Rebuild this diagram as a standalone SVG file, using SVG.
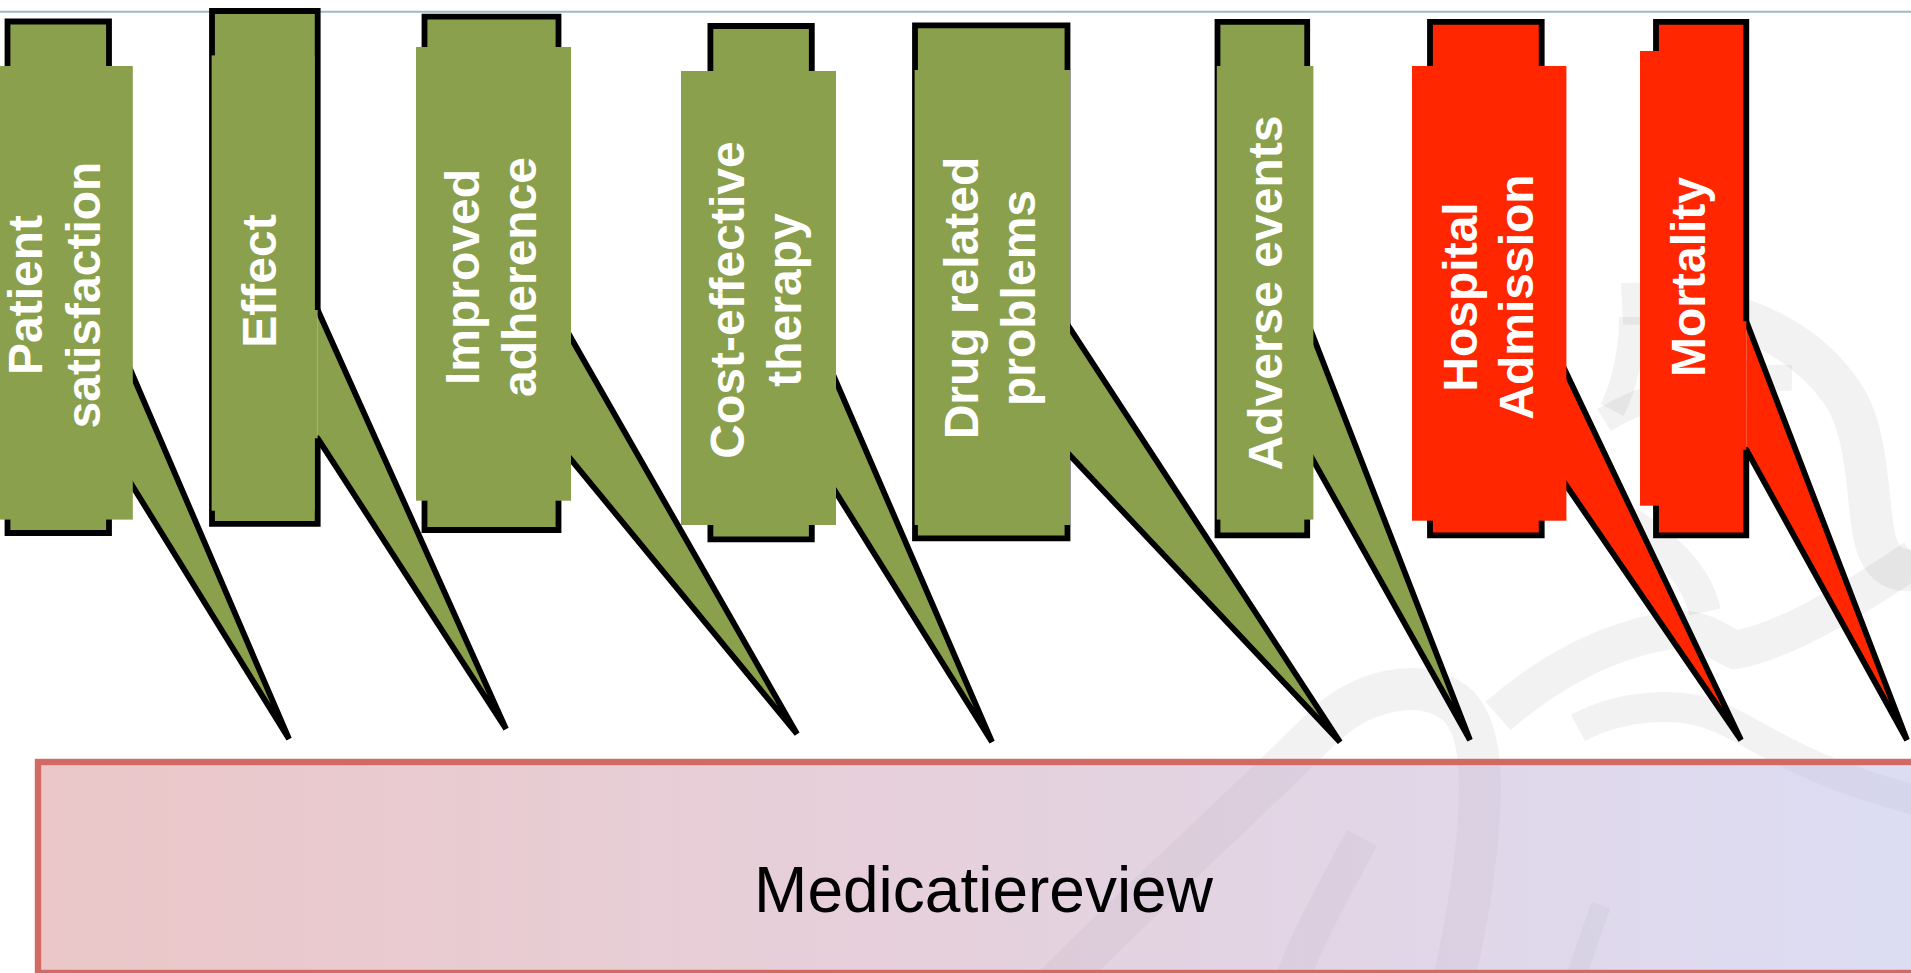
<svg xmlns="http://www.w3.org/2000/svg" width="1911" height="973" viewBox="0 0 1911 973">
  <defs>
    <!-- half-transparent tint so the emblem behind it shows through softly -->
    <linearGradient id="reviewFill" gradientUnits="userSpaceOnUse" x1="38" y1="0" x2="1931" y2="0">
      <stop offset="0" stop-color="#D78F91"/>
      <stop offset="0.45" stop-color="#CDA1B7"/>
      <stop offset="1" stop-color="#B9BBE9"/>
    </linearGradient>
    <style>
      .outline { stroke: #000; stroke-width: 5.8; stroke-linejoin: miter; }
      .wedge { stroke: #000; stroke-width: 5.8; stroke-linejoin: miter; stroke-linecap: round; }
      .green { fill: #8AA04C; }
      .red { fill: #FF2600; }
      .label { font-family: "Liberation Sans", Arial, sans-serif; font-weight: bold; font-size: 48px; fill: #FFFFFF; text-anchor: middle; }
      .base-label { font-family: "Liberation Sans", Arial, sans-serif; font-size: 64px; fill: #000000; text-anchor: middle; }
      .wm { fill: none; stroke: #000000; stroke-opacity: 0.05; }
    </style>
  </defs>

  <!-- page background and header rule -->
  <rect x="0" y="0" width="1911" height="973" fill="#FFFFFF"/>
  <line x1="0" y1="11.8" x2="1911" y2="11.8" stroke="#9DBDB8" stroke-width="2"/>

  <!-- faint background emblem -->
  <g id="watermark">
    <path class="wm" stroke-width="42" d="M1050 990 C1140 900 1250 800 1320 730 C1360 690 1420 676 1455 703 C1486 728 1482 800 1475 860 C1468 920 1458 960 1452 990"/>
    <path class="wm" stroke-width="38" d="M1498 716 C1545 675 1605 640 1672 630 C1700 627 1715 640 1735 650 C1790 640 1860 595 1915 558"/>
    <path class="wm" stroke-width="32" d="M1705 612 C1698 580 1675 552 1628 522"/>
    <path class="wm" stroke-width="26" d="M1632 317 C1632 350 1625 385 1612 410"/>
    <path class="wm" stroke-width="26" d="M1604 420 C1640 398 1700 376 1792 378"/>
    <path class="wm" stroke-width="42" d="M1622 304 C1700 300 1790 320 1840 390 C1870 430 1866 500 1875 540 C1882 565 1895 572 1915 570"/>
    <path class="wm" stroke-width="30" d="M1578 728 C1620 705 1680 700 1720 718 C1760 735 1800 770 1915 800"/>
    <path class="wm" stroke-width="34" d="M1362 838 C1340 880 1310 930 1290 985"/>
    <path class="wm" stroke-width="20" d="M1601 905 L1573 985"/>
  </g>

  <!-- base box -->
  <g id="medicatiereview">
    <rect x="38" y="762" width="1893" height="211" fill="url(#reviewFill)" fill-opacity="0.5" stroke="#D06A63" stroke-width="6.4"/>
    <text class="base-label" x="983.5" y="912">Medicatiereview</text>
  </g>

  <!-- pointers from each outcome down towards the review box -->
  <g id="connectors">
    <path class="wedge green" d="M109 320 L289 739 L109 448"/>
    <path class="wedge green" d="M317.7 310 L506 729 L317.7 438.3"/>
    <path class="wedge green" d="M558.5 316 L797 734 L558.5 444.4"/>
    <path class="wedge green" d="M811.8 325.4 L992 742 L811.8 453.8"/>
    <path class="wedge green" d="M1067.5 324.5 L1340 742 L1067.5 452.8"/>
    <path class="wedge green" d="M1307.2 321.3 L1470 740 L1307.2 449.7"/>
    <path class="wedge red" d="M1541.7 321.3 L1741 740 L1541.7 449.7"/>
    <path class="wedge red" d="M1746.3 321.3 L1907 740 L1746.3 449.7"/>
  </g>

  <!-- outcome callouts: open outline (gap where the pointer joins), text panel, label -->
  <g id="patient-satisfaction">
    <path class="outline green" d="M109 448 V533 H7.5 V21.5 H109 V320"/>
    <rect class="green" x="0" y="66" width="132.8" height="453.6"/>
    <text class="label" transform="translate(66 295) rotate(-90)"><tspan x="0" y="-24">Patient</tspan><tspan x="0" y="34">satisfaction</tspan></text>
  </g>

  <g id="effect">
    <path class="outline green" d="M317.7 438.3 V523.8 H212 V11 H317.7 V310"/>
    <rect class="green" x="211.6" y="55.4" width="103" height="455.3"/>
    <text class="label" transform="translate(263 281) rotate(-90)"><tspan x="0" y="13">Effect</tspan></text>
  </g>

  <g id="improved-adherence">
    <path class="outline green" d="M558.5 444.4 V530 H424.5 V16.6 H558.5 V316"/>
    <rect class="green" x="416" y="47" width="155" height="453.7"/>
    <text class="label" transform="translate(493.5 277) rotate(-90)"><tspan x="0" y="-15">Improved</tspan><tspan x="0" y="42.5">adherence</tspan></text>
  </g>

  <g id="cost-effective-therapy">
    <path class="outline green" d="M811.8 453.8 V539.3 H710.4 V26 H811.8 V325.4"/>
    <rect class="green" x="681" y="71" width="155" height="454"/>
    <text class="label" transform="translate(758.5 300) rotate(-90)"><tspan x="0" y="-14.5">Cost-effective</tspan><tspan x="0" y="42.5">therapy</tspan></text>
  </g>

  <g id="drug-related-problems">
    <path class="outline green" d="M1067.5 452.8 V538.3 H915 V25.3 H1067.5 V324.5"/>
    <rect class="green" x="914.6" y="70" width="155.4" height="455"/>
    <text class="label" transform="translate(992.3 298) rotate(-90)"><tspan x="0" y="-14">Drug related</tspan><tspan x="0" y="42.7">problems</tspan></text>
  </g>

  <g id="adverse-events">
    <path class="outline green" d="M1307.2 449.7 V535.3 H1217.5 V21.8 H1307.2 V321.3"/>
    <rect class="green" x="1216.8" y="66" width="96.6" height="453.6"/>
    <text class="label" transform="translate(1265 293) rotate(-90)"><tspan x="0" y="16.7">Adverse events</tspan></text>
  </g>

  <g id="hospital-admission">
    <path class="outline red" d="M1541.7 449.7 V535.3 H1430 V21.8 H1541.7 V321.3"/>
    <rect class="red" x="1412" y="66" width="154.4" height="454.7"/>
    <text class="label" transform="translate(1489.2 297) rotate(-90)"><tspan x="0" y="-12.6">Hospital</tspan><tspan x="0" y="44.1">Admission</tspan></text>
  </g>

  <g id="mortality">
    <path class="outline red" d="M1746.3 449.7 V535.3 H1656 V21.8 H1746.3 V321.3"/>
    <rect class="red" x="1640" y="51" width="103" height="454.7"/>
    <text class="label" transform="translate(1691.5 277) rotate(-90)"><tspan x="0" y="13.3">Mortality</tspan></text>
  </g>
</svg>
